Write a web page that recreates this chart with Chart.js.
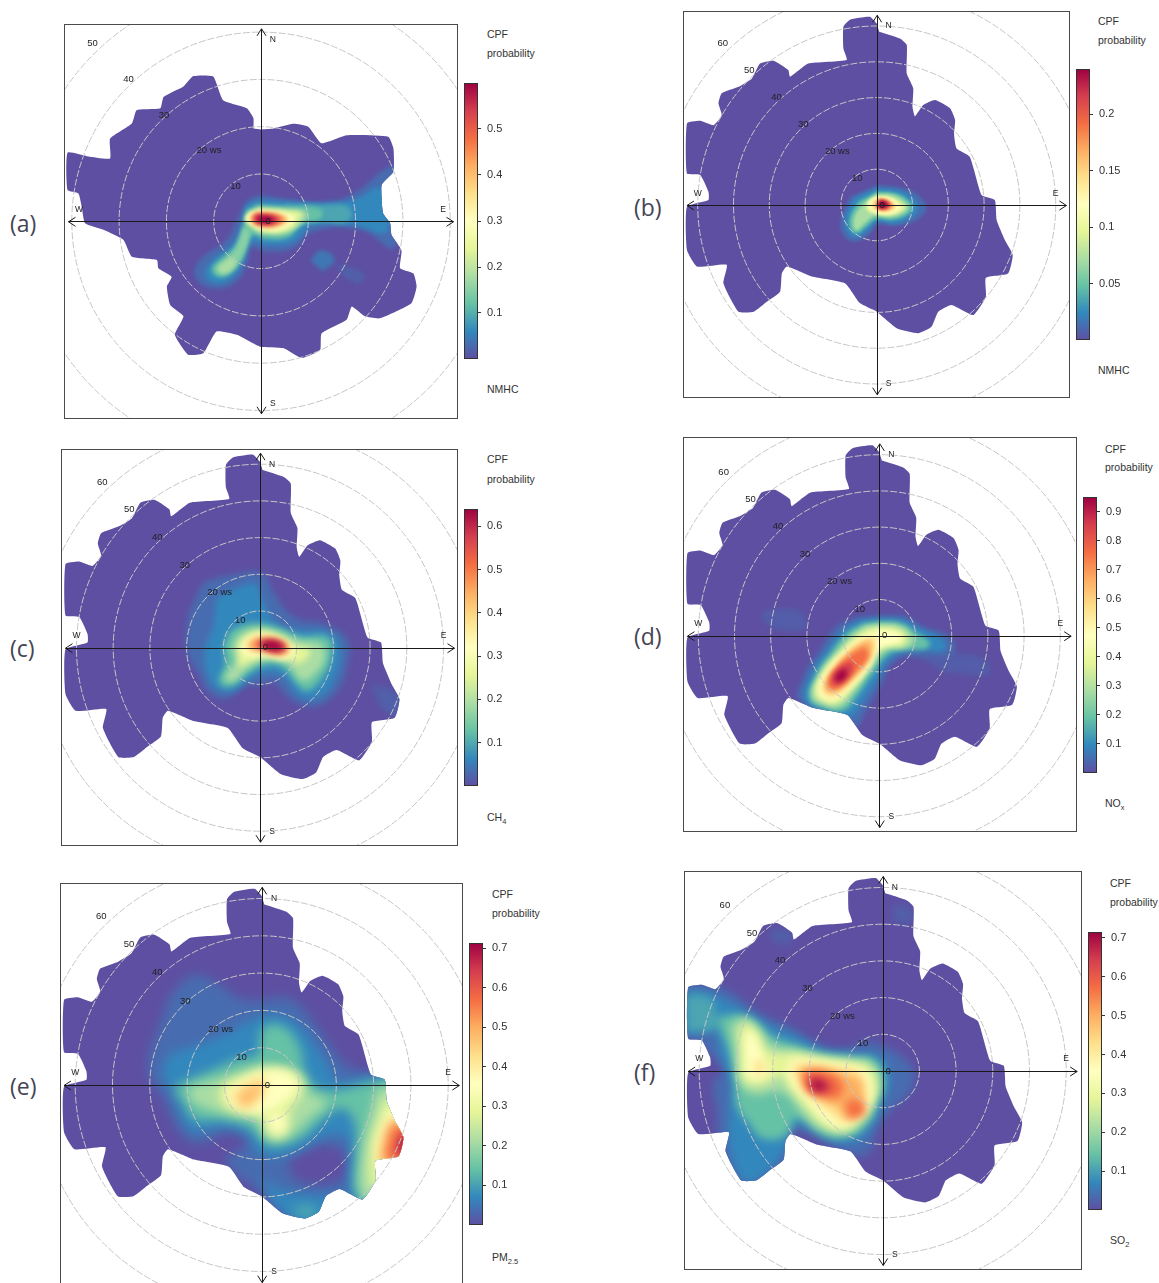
<!DOCTYPE html>
<html>
<head>
<meta charset="utf-8">
<title>CPF polar plots</title>
<script src="https://cdn.jsdelivr.net/npm/chart.js@4/dist/chart.umd.min.js"></script>
<style>
html, body { margin: 0; padding: 0; background: #fff; width: 1159px; height: 1283px; overflow: hidden; }
canvas { position: absolute; display: block; }
.txt { position: absolute; transform: translateY(-50%); font: 10.5px "Liberation Sans", Arial, sans-serif; color: #333; white-space: nowrap; }
.txt sub { font-size: 7.5px; line-height: 0; }
.tag { position: absolute; transform: translateY(-50%); font: 23px "Open Sans", sans-serif; color: #445; }
</style>
</head>
<body>
<script>
// wind speed reach per panel, [east ws, north ws]
const outlineA = [0,19.4, 2.6,19.6, 6.8,20.6, 10,20, 12.8,16.5, 18.1,18.2, 26.9,17.9, 28,15.4, 28,10.5, 25.5,7.7, 25.8,1.7, 27.3,-0.4, 27.6,-2.9, 29.7,-6.1, 29.4,-9.9, 32.2,-11, 32.9,-13.8, 31.8,-17.3, 25.1,-20.5, 22,-20.1, 19.2,-18, 18.1,-20.8, 12.8,-23.7, 12.5,-27.2, 8.6,-28.9, 4.7,-26.8, -0.2,-26.5, -5.1,-24, -9.4,-23.3, -12.2,-27.9, -15.4,-28.2, -18.2,-24, -16.4,-20.1, -19.2,-17.7, -19.9,-13.8, -18.9,-11.7, -21.7,-9.9, -22,-8.2, -27.3,-7.5, -29.1,-3.9, -33.3,-1.8, -37.2,-0.4, -37.9,3.1, -38.6,5.9, -40.9,6.6, -40.9,14.5, -36.5,13.7, -31.9,13.3, -31.9,17.5, -27.3,20.7, -26.3,23.5, -21.3,23.9, -20.6,26.3, -16.4,28.5, -14.3,30.7, -10.1,30.6, -8,25.6, -3,23.9, -1.6,21.8, -1.6,19.6];
const outlineMain = [0.7,48.4, 6.5,46.5, 8.4,44.7, 8.4,36.7, 10.2,32.6, 10,27.4, 10.7,24.8, 13,27.9, 16.3,29.3, 20.5,27, 21.9,23.7, 21.6,19.8, 22.3,15.8, 26,13.5, 29.3,2.8, 33,1.4, 33.5,-4.2, 35.8,-9.8, 38,-14, 36.7,-19.1, 30.5,-20.3, 30.5,-25.6, 27,-30.7, 20.9,-27.9, 17.2,-29.8, 15.3,-34, 11.6,-35.8, 5.6,-34.4, 0,-29.8, -4.7,-27.4, -8.8,-21.9, -18.1,-20, -25.1,-17.2, -26.5,-19.1, -27,-24.2, -30.7,-27, -34.4,-29.8, -38.6,-29.8, -42.8,-21.9, -41.9,-16.7, -50.2,-17.2, -53,-12.6, -53,-0.5, -47,1.4, -47,3.7, -49.3,8.4, -53,8.8, -53,22.8, -49.3,23.5, -45.6,22.3, -43.3,25.1, -44.2,28.4, -43.3,31.2, -38.6,33, -34.9,35.3, -32.6,39.5, -28.8,40.3, -24.7,37.7, -24.2,35.8, -19.1,39.5, -8.4,40.5, -9.3,43.7, -9.3,49.8, -7.4,51.8, -1.9,52.6, 0,50.7];

// CPF contours: [share of the colour bar, [east ws, north ws, ...]]
const contoursA = [
  [0.05, [-0.2,5.6, 6.8,4.5, 13.9,4.2, 19.5,5.9, 26.5,11.2, 28.3,11.2, 28.3,-5.4, 20.9,-1.8, 11.1,-2.2, 6.8,-5.7, 1.2,-6.4, -2,-5.7, -2.7,-8.2, -5.1,-12.7, -10.1,-14.2, -13.9,-11.7, -12.9,-8.2, -7.3,-3.9, -5.1,0.3, -3,4.5]],
  [0.03, [16,-8.9, 21.6,-11, 20.9,-13.1, 17.4,-11.7]],
  [0.07, [10.4,-8.2, 12.8,-6.1, 15.6,-8.2, 13,-10.6]],
  [0.1, [-0.9,4.5, 5.4,4.2, 12.5,3.8, 19.5,4.5, 25.5,7, 26.9,0.3, 26.2,-2.5, 19.5,-0.8, 11.1,-0.9, 6.8,-4.3, 1.2,-5, -2,-4.5, -3.7,-8.2, -5.8,-11.7, -9.4,-13.1, -11.8,-11.3, -10.1,-8.2, -6.5,-5.4, -4.1,-1.1, -3.4,3.1]],
  [0.15, [5,3.5, 13,3.4, 18.5,3, 18.5,0, 12,-0.2, 5,-1]],
  [0.2, [-0.9,3.5, 5.4,3.1, 12.5,2.6, 12.5,0.6, 8.2,-0.6, 6.1,-3.2, 1.2,-3.8, -2,-3.1, -4.1,-8.2, -6.5,-11, -9,-11.8, -10.4,-10.1, -8,-7.5, -5.5,-5.4, -3.6,-0.4, -3,2.4]],
  [0.25, [-3.5,-1, -2.4,-2.5, -3.8,-7, -5.5,-9, -7,-8.3, -5.2,-5.5]],
  [0.3, [-6.5,-7.5, -5.2,-8.8, -6.8,-10.8, -8.6,-11, -9.3,-9.9, -8,-8.5]],
  [0.3, [-0.6,3, 5.4,2.6, 9.5,2, 9.5,0.6, 6.1,-2.2, 1.2,-2.7, -1.8,-1.7, -3.3,0.3]],
  [0.4, [-0.6,2.5, 5.4,2.2, 8.5,1.7, 8,0.4, 5.8,-1.8, 1.2,-2.3, -1.8,-1.1, -3.4,0.6, -2.5,2]],
  [0.5, [-0.2,2.3, 4.7,1.8, 7,0.6, 4.7,-1.5, 1.2,-1.8, -1.6,-0.8, -3,0.6, -2.2,1.8]],
  [0.6, [-0.2,2, 4,1.5, 5.9,0.4, 4,-0.9, 1.2,-1.3, -1.3,-0.4, -2.6,0.8]],
  [0.75, [-0.6,1.9, 3.5,1.5, 5.2,0.4, 3.5,-0.9, 0.3,-1.1, -2,-0.1, -2,1.2]],
  [0.9, [-1.2,1.5, 2.5,1.3, 4,0.5, 2.5,-0.6, -0.8,-0.5, -1.6,0.6]],
  [1, [-0.6,1.1, 1.8,1, 2.8,0.3, 1.2,-0.4, -0.9,0.1]]
];
const contoursB = [
  [0.05, [0,5.6, 5.6,5.1, 10.7,3.4, 13.8,-0.5, 11.6,-4, 5.6,-5.9, 0.2,-5.6, -1.9,-8.1, -5.6,-10.2, -9.1,-8.8, -10,-3.7, -7.4,2.3]],
  [0.1, [0,4.7, 5.6,4.2, 9.8,2.3, 11.6,-0.7, 9.8,-3.4, 4.7,-5.1, 0,-4.7, -2.3,-7, -5.6,-9, -8.1,-7.7, -8.8,-3.7, -6.3,1.9]],
  [0.2, [0,3.7, 5.1,3.3, 8.8,1.4, 10,-0.7, 8.4,-2.8, 4.2,-4.2, 0,-4, -2.8,-6, -5.6,-7.9, -7.3,-6.5, -7.4,-3.3, -5.1,0.9]],
  [0.3, [0,3.1, 4.7,2.7, 7.9,0.9, 8.8,-0.7, 7.4,-2.3, 3.7,-3.4, -0.5,-3.1, -3.3,-5.1, -5.6,-7, -6.5,-5.6, -6,-2.8, -3.7,0.5]],
  [0.4, [0,2.5, 4.2,2.1, 7,0.5, 7.9,-0.7, 6.5,-2, 3.3,-2.9, 0,-2.5, -2.8,-1.4, -2.6,0.9]],
  [0.5, [0.2,2.3, 3.7,1.9, 6,0.3, 6.5,-0.9, 4.7,-2.1, 1.9,-2.5, -0.9,-1.9, -2.3,0, -1.7,1.6]],
  [0.6, [0.5,2, 3.3,1.6, 5.4,0, 5.1,-1.2, 2.8,-2, 0,-1.7, -1.4,-0.5, -1.1,1.2]],
  [0.75, [0.9,1.8, 3,1.2, 4.5,0, 3.7,-1.1, 1.7,-1.4, -0.2,-0.7, 0,0.9]],
  [0.9, [0.9,1.6, 2.8,1.1, 3.7,0, 2.6,-1.1, 0.8,-1.1, 0,0.2]],
  [1, [1.2,1.2, 2.6,0.7, 2.9,-0.2, 1.9,-0.8, 0.7,-0.6, 0.4,0.3]]
];
const contoursC = [
  [0.03, [30,-9.7, 38.2,-13.3, 37.3,-18.8, 32.7,-16]],
  [0.05, [-15.5,18, -6.4,20.1, 0.9,20.1, 3.6,15.3, 9.1,8.5, 18.2,6.2, 23.8,2.1, 23.8,-4.7, 20.9,-12, 14.5,-16.1, 8.2,-13.8, 3.6,-9.3, 0,-10.2, -3.6,-10.2, -9.1,-13.8, -13.6,-12.5, -16.8,-7, -20,-0.6, -19.5,9.4]],
  [0.1, [-11.8,13.9, -5.5,16.5, -0.9,17.1, 0.9,12.5, 4.5,6.6, 10.9,4.8, 19.1,4.1, 21.8,0.3, 20.5,-7.9, 16.4,-13.2, 10.9,-13.2, 6.4,-7.9, 1.8,-6.8, -2.7,-8.6, -7.3,-11.7, -11.8,-11.1, -14.4,-7, -15,-0.6, -12.7,5.7]],
  [0.2, [-8.2,4.4, -4.5,6.2, 0,6.6, 5.5,5.3, 10.9,3.2, 18.6,2.8, 19.5,-2, 16.8,-8.4, 12.7,-11.7, 9.5,-9.3, 6.4,-5.6, 1.8,-4.7, -2.7,-6.8, -8.2,-10.6, -11.1,-9.3, -9.5,-4.3, -10,0.3]],
  [0.3, [-6.4,3, -3.6,4.6, 0,5.3, 5.5,4.1, 10.9,1.9, 16.4,1, 17.7,-2.5, 14.5,-7.5, 11.4,-8.8, 7.3,-4.3, 1.8,-3.2, -2.7,-5.2, -7.7,-9.3, -9.4,-7.9, -6.8,-3.8, -7.7,-0.2]],
  [0.4, [-5.9,1.2, -3.2,3.7, 0.5,4.4, 5.5,3.2, 9.5,0.7, 13.6,-0.6, 10.9,-4.3, 7.3,-2.9, 1.8,-2.5, -2.7,-3.8, -5.5,-5, -5.9,-2]],
  [0.5, [-5.2,0.3, -2.7,3, 0.5,3.7, 5,2.5, 8.6,0.3, 9.1,-2, 6.4,-3.2, 0.9,-2, -2.7,-2.5, -5,-1.5]],
  [0.6, [-4.1,0.3, -2.3,2.5, 0.9,3.2, 5.5,2.1, 8.2,-0.2, 6.4,-2.5, 1.8,-1.5, -2.3,-1.1]],
  [0.75, [-3.2,0.7, -0.9,2.3, 2.7,2.5, 6.4,1.4, 7.5,-0.4, 5,-1.5, 1.4,-0.6, -1.4,-0.6]],
  [0.9, [-0.6,1.6, 3.6,2.1, 6.6,0.9, 6.9,-0.7, 4.5,-1.3, 1.8,-0.7, -0.6,0.1]],
  [1, [0.9,1.7, 3.8,1.7, 6,0.6, 5.4,-0.6, 2.4,-0.5, 0.9,0.4]]
];
const contoursD = [
  [0.025, [-32,7.1, -22.8,7.1, -20,2.5, -27.4,1.6, -32.6,4.3]],
  [0.025, [9.4,-4.9, 27.8,-5.8, 30.5,-10.4, 18.6,-10.4]],
  [0.05, [0.2,5.7, 7.5,5.2, 12.1,2.5, 19.5,-0.3, 20.4,-4.9, 13.1,-5.8, 4.8,-6.7, 0.2,-14.1, -3.5,-20.5, -6.3,-25.1, -9.9,-22.4, -21.9,-18.2, -20.5,-10.4, -16.4,-4, -11.8,2.5, -6.3,5.2]],
  [0.1, [0.2,4.8, 6.6,4.3, 11.2,2, 17.7,-1.2, 17.7,-4.1, 11.2,-4, 3.9,-5.8, -0.7,-12.2, -4.9,-18.7, -8.1,-22.4, -14.5,-21, -20.5,-17.8, -18.7,-10.4, -14.5,-4, -9.9,1.6, -5.3,4.3]],
  [0.2, [0.2,3.9, 6.2,3.4, 9.8,1.1, 13.8,-1.7, 13.1,-3.5, 8.5,-3.8, 2.9,-4.9, -1.7,-10.4, -6.3,-16.8, -9.9,-20.7, -15.5,-20, -19.3,-17.3, -17.3,-10.4, -13.6,-4.9, -9,0.6, -4.4,3.4]],
  [0.3, [0.2,3.2, 5.6,2.7, 8.9,0.4, 9.4,-2.1, 6.6,-3.5, 2,-4.1, -2.6,-9.5, -7.2,-15.9, -10.9,-19.6, -15.5,-19.1, -18.7,-16.8, -16.4,-10.4, -12.2,-4.9, -7.6,0.2, -4,2.7]],
  [0.4, [0.2,2.5, 4.8,2, 7.5,-0.3, 6.6,-2.6, 2.5,-3, -1.2,-4.9, -3.5,-9.5, -8.1,-15.5, -11.8,-18.7, -15.9,-18, -17.8,-15.5, -15.5,-9.9, -11.3,-4.9, -6.7,-0.3, -3,2]],
  [0.5, [0.2,1.6, 4.8,0.8, 6.2,-1, 3.9,-2.3, 0.2,-3.5, -2.6,-8.6, -8.1,-14.5, -11.8,-17.5, -15.4,-17.3, -16.8,-14.5, -14.5,-9.5, -9.9,-4.4, -5.3,-0.7, -2.1,0.8]],
  [0.6, [-2.1,-0.3, -0.7,-1.2, -2.6,-7.2, -8.1,-13.6, -12.2,-16.8, -15,-16.4, -15.9,-14.1, -13.6,-9.5, -9,-4.4, -4.9,-1.2]],
  [0.7, [-2.6,-1.2, -2.1,-4, -4,-7.6, -8.6,-12.7, -12.2,-15.3, -14.5,-15, -14.5,-12.7, -11.8,-8.6, -7.6,-4, -4,-1.7]],
  [0.8, [-4,-3, -3,-5.8, -6.8,-10.4, -10.5,-14, -13.6,-14.8, -14.2,-12.5, -11.2,-8.2, -7.4,-4.8]],
  [0.9, [-7.5,-7, -7.3,-9.5, -10,-12.7, -12.6,-13.6, -13,-11.2, -10.6,-8.2]],
  [1, [-9.3,-9.1, -9.1,-11, -11.2,-12.8, -12.2,-11.6, -10.8,-9.6]]
];
const contoursE = [
  [0.05, [-24.6,24.1, -18.3,29.5, -11.2,26.8, -5.8,23.2, 0.4,22.8, 7.6,23.2, 13.8,17, 18.3,10.7, 22.8,5.4, 29,3.1, 40.6,2.7, 41.5,-17.9, 33.5,-24.1, 31.7,-33, 12.1,-37.1, 3.1,-32.1, -0.4,-28.6, -7.6,-23.2, -9.8,-19.6, -6.7,-17.9, -4,-15.2, -9.4,-12.9, -14.7,-15.2, -19.2,-15.2, -23.7,-9.8, -26.3,-3.6, -29.5,0.9, -30.4,7.1, -27.7,15.2]],
  [0, [6.7,-20.5, 13.8,-16.5, 21,-17, 23.7,-20.5, 21.9,-25, 13.8,-26.8, 8.5,-25]],
  [0.1, [-16.5,10.7, -9.4,13.8, -1.3,17.9, 4,18.8, 9.8,16.1, 14.7,9.8, 17.9,4.9, 20.1,0.9, 28.6,2.2, 41.5,2.7, 41.5,-20.5, 31.7,-32.1, 24.6,-31.3, 23.2,-25, 22.8,-14.3, 16.5,-13.8, 10.3,-17.4, 3.1,-19.2, -1.3,-17.9, -4,-12.9, -11.2,-11.2, -18.3,-12.5, -21.9,-7.1, -24.1,-1.8, -26.3,2.7, -24.6,8, -20.1,9.8]],
  [0.1, [-0.4,-25, 6.7,-28.6, 13.8,-29.5, 23.7,-30.8, 24.6,-35.7, 10.3,-37.1, 3.1,-32.1]],
  [0.15, [7.6,-33, 12.9,-32.1, 15.2,-34.4, 11.2,-36.2]],
  [0.2, [-11.2,4.9, -5.8,7.1, -1.3,8, 0.4,15.2, 5.8,15.6, 10.3,9.8, 11.6,3.6, 16.5,-1.3, 30.8,0.9, 41.5,1.3, 41.5,-20.5, 31.7,-30.8, 25.9,-30.4, 25.4,-17.9, 25,-10.7, 21.9,-6.3, 16.5,-8.9, 11.2,-13.8, 4,-16.5, 0.4,-15.2, -3.1,-11.6, -10.3,-9.4, -18.3,-8.9, -21,-4.5, -23.2,-0.9, -18.3,1.8, -13.8,3.6]],
  [0.3, [-9.4,2.2, -4,4, 1.3,4.9, 10.3,2.7, 12.5,-1.8, 17.4,-4.5, 12.9,-8.9, 8.5,-12.9, 3.1,-14.7, 0.4,-12.9, -1.3,-9.4, -7.6,-8, -14.7,-6.3, -19.2,-3.6, -19.2,-0.9, -14.7,0.9]],
  [0.3, [30.8,-0.9, 41.5,0, 41.5,-17.9, 30.8,-30.4, 26.8,-29.5, 26.8,-17.9, 29,-8.9]],
  [0.4, [-5.8,2.2, -0.4,4, 4.9,4.5, 9.8,2.2, 10.7,-1.8, 7.6,-7.1, 6.7,-12.5, 3.1,-13.8, 0.9,-10.7, -0.4,-8, -6.7,-7.1, -10.3,-5.4, -11.2,-1.8, -9.4,0.9]],
  [0.4, [33,-3.6, 41.5,-3.6, 41.5,-16.1, 30.8,-27.7, 29,-25, 29.5,-14.3]],
  [0.5, [-4,1.8, 0.4,3.6, 5.8,3.6, 9.4,1.3, 8.9,-1.8, 5.8,-4.5, 1.3,-7.1, -4,-7.1, -8.5,-4.5, -9.4,-1.8, -6.7,0.4]],
  [0.5, [1.3,-8.9, 5.8,-8, 5.8,-12.5, 3.1,-12.9]],
  [0.5, [33.9,-7.1, 41.5,-7.1, 41.5,-15.2, 31.7,-20.5, 30.8,-16.1]],
  [0.6, [-2.7,0.9, 0.4,2, 0.6,-0.9, -1.3,-4.5, -4,-6.3, -6.7,-4.5, -8,-2.2, -5.4,-0.4]],
  [0.6, [35.3,-8.9, 41.5,-9.8, 41.5,-16.1, 31.7,-20.5, 32.1,-14.3]],
  [0.68, [-1.8,0, 0,0.9, -0.4,-1.8, -2.7,-4.5, -4.9,-5.4, -6.3,-3.6, -4.9,-1.8]],
  [0.72, [34.4,-9.8, 41.5,-11.6, 41.5,-17, 33,-20.5, 33,-15.2]],
  [0.8, [35.7,-11.2, 41.5,-12.5, 41.5,-17.4, 33.9,-20.5, 34.4,-15.2]],
  [0.9, [37.1,-12.9, 41.5,-13.4, 41.5,-17.4, 36.2,-19.2, 36.6,-16.1]],
  [1, [37.9,-14.3, 41.5,-14.3, 41.5,-17, 37.1,-17.9]]
];
const contoursF = [
  [0.03, [2.9,45.3, 7.5,44.4, 7.5,40.5, 2.9,40.5]],
  [0.03, [-31,39, -25,38, -25,35, -30,35]],
  [0.05, [-53.5,24.4, -43.5,22.5, -32.5,15.3, -24.4,11.6, -17.1,7.1, -9.8,6.2, -4.4,8, -0.7,7.1, 4.7,4.4, 8.4,-0.2, 7.5,-5.6, 1.1,-12, -1.6,-16.5, -4.4,-22.9, -10.7,-22, -24.4,-16.5, -26.2,-24.7, -33.5,-31.1, -39.8,-31.1, -44.4,-19.3, -45.3,-10.2, -46.2,-2.9, -43.5,-0.2, -47.1,4.4, -53.5,8.9]],
  [0.1, [-53.5,22.5, -46.2,20.7, -37.1,16, -30.7,12.5, -22.5,8.9, -16.2,5.7, -8,4.8, -0.7,3.9, 2,-1.1, 0.2,-8.4, -3.5,-15.6, -7.1,-19.3, -12.5,-19.3, -23.9,-14.7, -27.1,-22.2, -34.4,-29.7, -38,-29.7, -41.6,-21.1, -41.6,-10.2, -41.6,-2.9, -44.2,4.4, -46.2,10.7, -53.5,9.8]],
  [0.15, [-53.5,20.7, -47.1,19.8, -45.3,15.3, -45.3,11.6, -53.5,10.7]],
  [0.2, [-45.3,14.4, -39.3,15.3, -33.8,13, -30.7,9.8, -23.5,7.1, -16.2,4.8, -8,3.9, -2.1,3, 0.2,-2, -1.6,-9.3, -4.4,-14.7, -9.8,-17.9, -16.2,-17.5, -23.5,-12.9, -26.2,-17.5, -32.5,-18.4, -36.2,-14.7, -39.8,-9.3, -40.3,-2.9, -41.6,4.4, -43.9,10.7]],
  [0.3, [-41.6,12.5, -38,14.4, -33.8,11.6, -29.8,7.1, -23.5,5.7, -16.2,3.9, -8,3, -3,2.1, -0.7,-2.9, -2.5,-9.3, -5.7,-14.3, -9.8,-17, -16.2,-16.1, -21.6,-12, -26.2,-6.5, -29.8,-5.6, -33.8,-6.5, -38.2,-4.7, -39.8,0.7, -40.7,8]],
  [0.4, [-39.3,10.7, -37,13, -33.8,9.8, -31.2,5.3, -23.5,4.8, -16.2,3.5, -8,2.4, -3.9,1.2, -1.6,-3.8, -3.3,-9.3, -6.6,-13.8, -10.7,-16.1, -16.2,-14.7, -20.7,-10.2, -25.3,-4.7, -28,-1.1, -30.7,-2.9, -35.1,-3.8, -38.2,-2, -38.7,4.4]],
  [0.5, [-37.4,9.8, -35.7,10.7, -33.5,6.2, -32.1,2.5, -31.2,-0.2, -33.5,-2, -36.2,-2, -37.4,1.6]],
  [0.5, [-24.4,3.5, -16.2,2.5, -8,1.2, -4.8,-0.2, -3,-4.7, -3.9,-9.3, -7.1,-12.9, -10.7,-15.2, -15.7,-13.4, -20.3,-8.4, -24.4,-3.8, -26.2,-0.2]],
  [0.6, [-35.1,3, -32.8,2.5, -32.3,-0.2, -34.8,-1.1]],
  [0.6, [-23.9,2.1, -18.9,2.1, -14.4,1.2, -7.1,0.3, -4.8,-2.9, -4.5,-8.4, -7.1,-12, -10.7,-13.8, -14.4,-11.6, -19,-7.5, -23,-3.4, -24.8,-0.2]],
  [0.7, [-22.5,0.3, -17.1,0.7, -9.8,-1.1, -6.6,-2, -5.5,-6.5, -6.2,-11.1, -9.8,-12.9, -11.6,-10.2, -17.1,-7.5, -21.2,-4.7]],
  [0.8, [-21.8,-0.2, -17,0, -11.4,-2.6, -11.8,-7, -17.3,-6.7, -21,-4.6]],
  [0.8, [-10.4,-8.8, -6.8,-7.8, -4.8,-11.4, -9,-13.2]],
  [0.9, [-20,-1.5, -16.4,-2, -13.8,-4.7, -17.8,-5.8, -20.2,-4]],
  [1, [-19.5,-2.6, -16.8,-3, -15.6,-4.8, -18.6,-5.2]]
];

// colour bars
const barMaxA = 0.6,   barTicksA = [0.1, 0.2, 0.3, 0.4, 0.5];
const barMaxB = 0.24,  barTicksB = [0.05, 0.1, 0.15, 0.2];
const barMaxC = 0.64,  barTicksC = [0.1, 0.2, 0.3, 0.4, 0.5, 0.6];
const barMaxD = 0.95,  barTicksD = [0.1, 0.2, 0.3, 0.4, 0.5, 0.6, 0.7, 0.8, 0.9];
const barMaxE = 0.713, barTicksE = [0.1, 0.2, 0.3, 0.4, 0.5, 0.6, 0.7];
const barMaxF = 0.715, barTicksF = [0.1, 0.2, 0.3, 0.4, 0.5, 0.6, 0.7];

// rings and their labels, in ws
const ringsShort = [10, 20, 30, 40, 50];
const ringsLong = [10, 20, 30, 40, 50, 60];
const ringText = ['10', '20 ws', '30', '40', '50', '60'];
const ringTextX = [-5.4, -11, -20.5, -28, -35.6, -43];
const ringTextY = [7.4, 15, 22.5, 30.1, 37.6, 45.1];
const spectral = ['#5E4FA2', '#3288BD', '#66C2A5', '#ABDDA4', '#E6F598', '#FFFFBF', '#FEE08B', '#FDAE61', '#F46D43', '#D53E4F', '#9E0142'];

const layout = [
  { tag: '(a)', tagAt: [10, 223], box: [64, 24, 457, 418], cx: 261, cy: 221.3, k: 4.73, outline: outlineA, contours: contoursA, blur: 2.2, rings: ringsShort, axis: 40.7, card: 38.5, cardOff: 2.5,
    bar: [464, 83, 359], barMax: barMaxA, barTicks: barTicksA, textX: 487, cpfY: [34, 53], name: 'NMHC', nameY: 389 },
  { tag: '(b)', tagAt: [634, 207], box: [683, 11, 1069, 397], cx: 876.7, cy: 205, k: 3.58, outline: outlineMain, contours: contoursB, blur: 1.6, rings: ringsLong, axis: 53, card: 50, cardOff: 3.3,
    bar: [1076, 69, 340], barMax: barMaxB, barTicks: barTicksB, textX: 1098, cpfY: [21, 40], name: 'NMHC', nameY: 370 },
  { tag: '(c)', tagAt: [10, 648], box: [61, 449, 457, 845], cx: 260, cy: 647.7, k: 3.67, outline: outlineMain, contours: contoursC, blur: 3.2, rings: ringsLong, axis: 53, card: 50, cardOff: 3.3,
    bar: [464, 509, 786], barMax: barMaxC, barTicks: barTicksC, textX: 487, cpfY: [459, 479], name: 'CH<sub>4</sub>', nameY: 817 },
  { tag: '(d)', tagAt: [634, 636], box: [683, 437, 1076, 831], cx: 879.3, cy: 635.7, k: 3.62, outline: outlineMain, contours: contoursD, blur: 2.6, rings: ringsLong, axis: 53, card: 50, cardOff: 3.3,
    bar: [1083, 497, 773], barMax: barMaxD, barTicks: barTicksD, textX: 1105, cpfY: [449, 467], name: 'NO<sub>x</sub>', nameY: 803 },
  { tag: '(e)', tagAt: [10, 1086], box: [60, 883, 462, 1292], cx: 261.7, cy: 1085, k: 3.73, outline: outlineMain, contours: contoursE, blur: 5.5, rings: ringsLong, axis: 53, card: 50, cardOff: 3.3,
    bar: [469, 943, 1225], barMax: barMaxE, barTicks: barTicksE, textX: 492, cpfY: [894, 913], name: 'PM<sub>2.5</sub>', nameY: 1257 },
  { tag: '(f)', tagAt: [634, 1072], box: [684, 871, 1081, 1269], cx: 882.7, cy: 1071, k: 3.67, outline: outlineMain, contours: contoursF, blur: 4.5, rings: ringsLong, axis: 53, card: 50, cardOff: 3.3,
    bar: [1088, 932, 1210], barMax: barMaxF, barTicks: barTicksF, textX: 1110, cpfY: [883, 902], name: 'SO<sub>2</sub>', nameY: 1240 }
];

function toPoints(flat) {
    const out = [];
    for (let i = 0; i < flat.length; i += 2) out.push({ x: flat[i], y: flat[i + 1] });
    return out;
}

function hexRgb(h) {
    return [1, 3, 5].map(i => parseInt(h.substr(i, 2), 16));
}

function levelColor(t) {
    const p = t * (spectral.length - 1);
    const i = Math.min(Math.floor(p), spectral.length - 2);
    const a = hexRgb(spectral[i]), b = hexRgb(spectral[i + 1]);
    const f = p - i;
    return 'rgb(' + a.map((v, n) => Math.round(v + (b[n] - v) * f)).join(',') + ')';
}

function tracePath(ctx, meta, area) {
    const line = meta.dataset;
    line.updateControlPoints(area, 'x');
    ctx.beginPath();
    line.path(ctx);
    ctx.closePath();
}

const rosePlugin = {
    id: 'rose',
    beforeDatasetsDraw(chart, args, opts) {
        const ctx = chart.ctx, area = chart.chartArea;
        const outlineMeta = chart.getDatasetMeta(0);
        ctx.save();
        tracePath(ctx, outlineMeta, area);
        ctx.fillStyle = spectral[0];
        ctx.fill();
        ctx.clip();
        ctx.filter = 'blur(' + opts.blur + 'px)';
        chart.data.datasets.forEach((ds, i) => {
            if (i === 0) return;
            tracePath(ctx, chart.getDatasetMeta(i), area);
            ctx.fillStyle = levelColor(ds.level);
            ctx.fill();
        });
        ctx.restore();
    },
    afterDatasetsDraw(chart, args, opts) {
        const ctx = chart.ctx, area = chart.chartArea;
        const x = chart.scales.x, y = chart.scales.y;
        const x0 = x.getPixelForValue(0), y0 = y.getPixelForValue(0);
        ctx.save();
        ctx.beginPath();
        ctx.rect(area.left, area.top, area.right - area.left, area.bottom - area.top);
        ctx.clip();

        ctx.strokeStyle = '#c6c6c6';
        ctx.lineWidth = 1;
        ctx.setLineDash([7, 2]);
        opts.rings.forEach(r => {
            ctx.beginPath();
            ctx.arc(x0, y0, x.getPixelForValue(r) - x0, 0, Math.PI * 2);
            ctx.stroke();
        });
        ctx.setLineDash([]);

        const len = opts.axis;
        const xl = x.getPixelForValue(-len), xr = x.getPixelForValue(len);
        const yt = y.getPixelForValue(len), yb = y.getPixelForValue(-len);
        ctx.strokeStyle = '#1a1a1a';
        ctx.beginPath();
        ctx.moveTo(xl, Math.round(y0) + 0.5); ctx.lineTo(xr, Math.round(y0) + 0.5);
        ctx.moveTo(Math.round(x0) + 0.5, yt); ctx.lineTo(Math.round(x0) + 0.5, yb);
        ctx.moveTo(xl + 7, y0 - 4); ctx.lineTo(xl, y0 + 0.5); ctx.lineTo(xl + 7, y0 + 5);
        ctx.moveTo(xr - 7, y0 - 4); ctx.lineTo(xr, y0 + 0.5); ctx.lineTo(xr - 7, y0 + 5);
        ctx.moveTo(x0 - 4, yt + 7); ctx.lineTo(x0 + 0.5, yt); ctx.lineTo(x0 + 5, yt + 7);
        ctx.moveTo(x0 - 4, yb - 7); ctx.lineTo(x0 + 0.5, yb); ctx.lineTo(x0 + 5, yb - 7);
        ctx.stroke();

        ctx.fillStyle = '#222';
        ctx.textAlign = 'center';
        ctx.textBaseline = 'middle';
        ctx.font = '9.5px "Liberation Sans", Arial, sans-serif';
        opts.rings.forEach((r, i) => {
            ctx.fillText(ringText[i], x.getPixelForValue(ringTextX[i]), y.getPixelForValue(ringTextY[i]));
        });
        ctx.fillText('0', x.getPixelForValue(1.5), y0);
        ctx.font = '8.5px "Liberation Sans", Arial, sans-serif';
        const c = opts.card, o = opts.cardOff;
        ctx.fillText('N', x.getPixelForValue(o), y.getPixelForValue(c));
        ctx.fillText('S', x.getPixelForValue(o), y.getPixelForValue(-c));
        ctx.fillText('E', x.getPixelForValue(c), y.getPixelForValue(o));
        ctx.fillText('W', x.getPixelForValue(-c), y.getPixelForValue(o));
        ctx.restore();

        ctx.strokeStyle = '#4a4a4a';
        ctx.strokeRect(area.left + 0.5, area.top + 0.5, area.right - area.left - 1, area.bottom - area.top - 1);
    }
};

function addCanvas(left, top, width, height) {
    const canvas = document.createElement('canvas');
    canvas.width = width;
    canvas.height = height;
    canvas.style.left = left + 'px';
    canvas.style.top = top + 'px';
    canvas.style.width = width + 'px';
    canvas.style.height = height + 'px';
    document.body.appendChild(canvas);
    return canvas;
}

function addText(cls, html, left, top) {
    const el = document.createElement('div');
    el.className = cls;
    el.innerHTML = html;
    el.style.left = left + 'px';
    el.style.top = top + 'px';
    document.body.appendChild(el);
}

function drawRose(p) {
    const [l, t, r, b] = p.box;
    const canvas = addCanvas(l, t, r - l + 1, b - t + 1);
    const shape = { showLine: true, pointRadius: 0, borderWidth: 0, fill: false };
    const datasets = [Object.assign({ label: 'extent', data: toPoints(p.outline), tension: 0.15 }, shape)];
    p.contours.forEach(c => {
        datasets.push(Object.assign({ label: 'CPF ' + c[0], level: c[0], data: toPoints(c[1]), tension: 0.45 }, shape));
    });
    new Chart(canvas, {
        type: 'scatter',
        data: { datasets: datasets },
        plugins: [rosePlugin],
        options: {
            responsive: false,
            animation: false,
            events: [],
            layout: { padding: 0 },
            plugins: {
                legend: { display: false },
                tooltip: { enabled: false },
                rose: { blur: p.blur, rings: p.rings, axis: p.axis, card: p.card, cardOff: p.cardOff }
            },
            scales: {
                x: { type: 'linear', display: false, min: (l - p.cx) / p.k, max: (r + 1 - p.cx) / p.k },
                y: { type: 'linear', display: false, min: (p.cy - b - 1) / p.k, max: (p.cy - t) / p.k }
            }
        }
    });
}

const barFrame = {
    id: 'barFrame',
    afterDatasetsDraw(chart) {
        const a = chart.chartArea;
        chart.ctx.strokeStyle = '#333';
        chart.ctx.lineWidth = 1;
        chart.ctx.strokeRect(a.left + 0.5, a.top + 0.5, a.right - a.left - 1, a.bottom - a.top - 1);
    }
};

function drawColourBar(p) {
    const [left, top, bottom] = p.bar;
    const pad = 8, barWidth = 14, canvasWidth = 62;
    const canvas = addCanvas(left, top - pad, canvasWidth, bottom - top + pad * 2);
    new Chart(canvas, {
        type: 'bar',
        data: {
            labels: ['CPF'],
            datasets: [{
                data: [[0, p.barMax]],
                barPercentage: 1,
                categoryPercentage: 1,
                borderWidth: 0,
                backgroundColor(ctx) {
                    const area = ctx.chart.chartArea;
                    if (!area) return spectral[0];
                    const g = ctx.chart.ctx.createLinearGradient(0, area.bottom, 0, area.top);
                    spectral.forEach((c, i) => g.addColorStop(i / (spectral.length - 1), c));
                    return g;
                }
            }]
        },
        plugins: [barFrame],
        options: {
            responsive: false,
            animation: false,
            events: [],
            layout: { padding: { top: pad, bottom: pad, left: 0, right: 0 } },
            plugins: { legend: { display: false }, tooltip: { enabled: false } },
            scales: {
                x: { display: false },
                y: {
                    position: 'right',
                    min: 0,
                    max: p.barMax,
                    border: { display: false },
                    grid: { drawOnChartArea: false, tickLength: 3, color: '#333' },
                    ticks: {
                        autoSkip: false,
                        padding: 6,
                        color: '#333',
                        font: { family: '"Liberation Sans", Arial, sans-serif', size: 11 },
                        callback: v => String(v)
                    },
                    afterBuildTicks(scale) { scale.ticks = p.barTicks.map(v => ({ value: v })); },
                    afterFit(scale) {
                        scale.width = canvasWidth - barWidth;
                        scale.paddingTop = 0;
                        scale.paddingBottom = 0;
                    }
                }
            }
        }
    });
}

layout.forEach(p => {
    drawRose(p);
    drawColourBar(p);
    addText('tag', p.tag, p.tagAt[0], p.tagAt[1]);
    addText('txt', 'CPF', p.textX, p.cpfY[0]);
    addText('txt', 'probability', p.textX, p.cpfY[1]);
    addText('txt', p.name, p.textX, p.nameY);
});
</script>
</body>
</html>
